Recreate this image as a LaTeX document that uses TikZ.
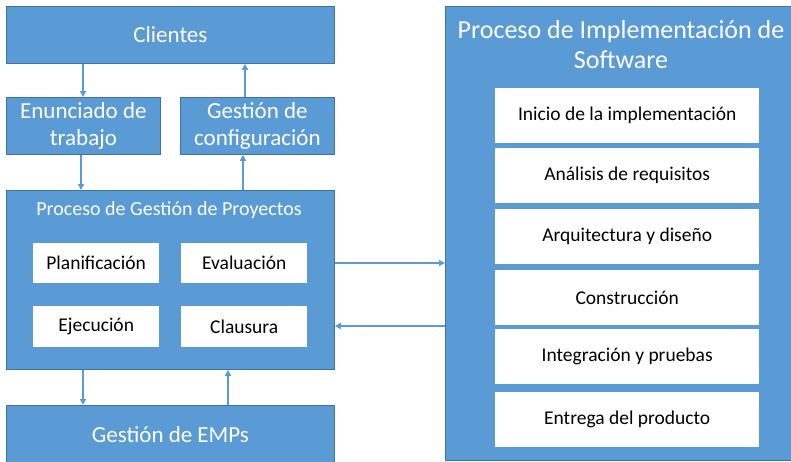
\documentclass[tikz,border=0pt]{standalone}
\usepackage{fontspec}
\setmainfont{Carlito}
\usetikzlibrary{arrows.meta}
\definecolor{bfill}{HTML}{5B9BD5}
\definecolor{bline}{HTML}{41719C}
\tikzset{
  bluebox/.style={draw=bline, line width=0.8pt, fill=bfill, text=white, anchor=north west, inner sep=0pt, align=center},
  whitebox/.style={fill=white, draw=none, anchor=north west, inner sep=0pt, align=center, text=black, font=\fontsize{19.5}{23}\selectfont},
  arr/.style={draw=bfill, line width=2pt, -{Triangle[length=6pt,width=6pt]}},
}
\begin{document}
\begin{tikzpicture}[x=1pt,y=-1pt]
\useasboundingbox (0,0) rectangle (791,461);
% blue boxes
\node[bluebox, minimum width=328pt, minimum height=57pt, font=\fontsize{23}{27}\selectfont] (cli) at (6,6) {Clientes};
\node[bluebox, minimum width=154pt, minimum height=57pt, font=\fontsize{23}{27}\selectfont] (enu) at (6,97) {Enunciado de\\trabajo};
\node[bluebox, minimum width=154pt, minimum height=57pt, font=\fontsize{23}{27}\selectfont] (gco) at (180,97) {Gestión de\\configuración};
\node[bluebox, minimum width=328pt, minimum height=179pt] (pgp) at (6,190) {};
\node[text=white, font=\fontsize{20}{24}\selectfont, inner sep=0pt] (pgpt) at (169,210) {Proceso de Gestión de Proyectos};
\node[bluebox, minimum width=328pt, minimum height=58pt, font=\fontsize{23}{27}\selectfont] (emp) at (6,405) {Gestión de EMPs};
\node[bluebox, minimum width=360pt, minimum height=454pt] (pis) at (445,6) {};
\node[text=white, font=\fontsize{26}{30}\selectfont, align=center, inner sep=0pt] (pist) at (621,45) {Proceso de Implementación de\\Software};
% inner white boxes (left)
\node[whitebox, minimum width=126pt, minimum height=40pt] (pla) at (33,243) {Planificación};
\node[whitebox, minimum width=126pt, minimum height=40pt] (eva) at (181,243) {Evaluación};
\node[whitebox, minimum width=126pt, minimum height=41pt] (eje) at (33,306) {Ejecución};
\node[whitebox, minimum width=126pt, minimum height=41pt] (cla) at (181,306) {Clausura};
% inner white boxes (right)
\node[whitebox, minimum width=264pt, minimum height=55pt] (r1) at (495,88) {Inicio de la implementación};
\node[whitebox, minimum width=264pt, minimum height=55pt] (r2) at (495,148) {Análisis de requisitos};
\node[whitebox, minimum width=264pt, minimum height=55pt] (r3) at (495,209) {Arquitectura y diseño};
\node[whitebox, minimum width=264pt, minimum height=55pt] (r4) at (495,270) {Construcción};
\node[whitebox, minimum width=264pt, minimum height=55pt] (r5) at (495,329) {Integración y pruebas};
\node[whitebox, minimum width=264pt, minimum height=55pt] (r6) at (495,392) {Entrega del producto};
% connectors
\draw[arr] (83,0 |- cli.south) -- (83,0 |- enu.north);
\draw[arr] (81,0 |- enu.south) -- (81,0 |- pgp.north);
\draw[arr] (243,0 |- pgp.north) -- (243,0 |- gco.south);
\draw[arr] (245,0 |- gco.north) -- (245,0 |- cli.south);
\draw[arr] (83,0 |- pgp.south) -- (83,0 |- emp.north);
\draw[arr] (228,0 |- emp.north) -- (228,0 |- pgp.south);
\draw[arr] (pgp.east |- 0,263) -- (pis.west |- 0,263);
\draw[arr] (pis.west |- 0,326) -- (pgp.east |- 0,326);
\end{tikzpicture}
\end{document}
